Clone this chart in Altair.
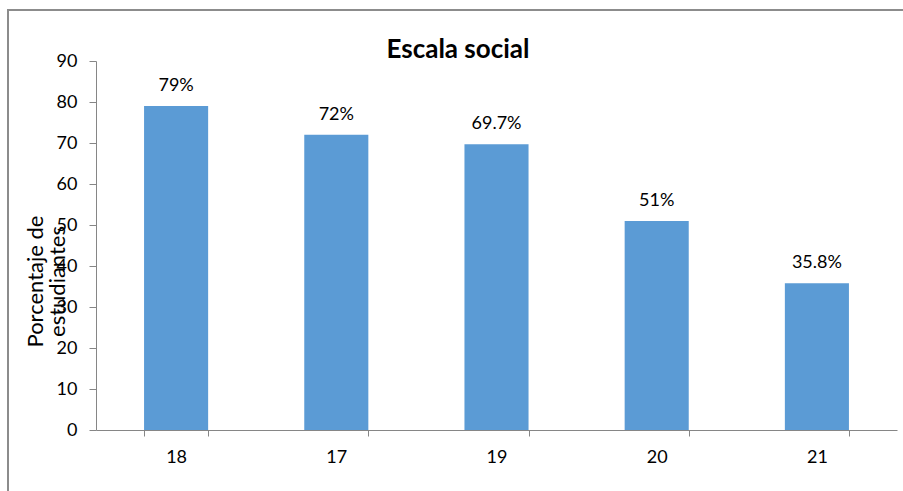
import altair as alt
import pandas as pd

# Categories (ages) and percentage of students for each one
edades = ["18", "17", "19", "20", "21"]
porcentajes = [79, 72, 69.7, 51, 35.8]
titulo = "Escala social"

df = pd.DataFrame({"edad": edades, "valor": porcentajes})

FONT = "Lato"
AXIS_GRAY = "#868686"

base = alt.Chart(df).encode(
    x=alt.X(
        "edad:N",
        sort=edades,
        scale=alt.Scale(paddingInner=0.6, paddingOuter=0.3),
        axis=alt.Axis(
            title=None,
            labelAngle=0,
            tickBand="extent",
            domainColor=AXIS_GRAY,
            tickColor=AXIS_GRAY,
            tickSize=6,
            labelPadding=12,
            labelFont=FONT,
            labelFontSize=18,
            labelColor="black",
        ),
    ),
    y=alt.Y(
        "valor:Q",
        scale=alt.Scale(domain=[0, 90], nice=False),
        axis=alt.Axis(
            title=["Porcentaje de", "estudiantes"],
            titleFont=FONT,
            titleFontSize=22,
            titleFontWeight="normal",
            titleColor="black",
            titleAngle=270,
            titleAlign="center",
            titleBaseline="middle",
            titleLineHeight=22,
            titleX=-61,
            titleY=220,
            values=list(range(0, 91, 10)),
            grid=False,
            domainColor=AXIS_GRAY,
            tickColor=AXIS_GRAY,
            tickSize=7,
            labelPadding=12,
            labelFont=FONT,
            labelFontSize=18,
            labelColor="black",
        ),
    ),
)

barras = base.mark_bar(color="#5B9BD5")

etiquetas = base.transform_calculate(
    etiqueta="datum.valor + '%'"
).mark_text(
    font=FONT, fontSize=18, color="black", baseline="alphabetic", dy=-15
).encode(text="etiqueta:N")

uno = alt.Chart(pd.DataFrame({"t": [titulo]}))

# Outer frame around the chart
marco = uno.mark_rect(
    fill=None, stroke="#8c8c8c", strokeWidth=2
).encode(
    x=alt.value(-88), y=alt.value(-51), x2=alt.value(820), y2=alt.value(480)
)

# Chart title, drawn above the plot
encabezado = uno.mark_text(
    font=FONT, fontSize=26, fontWeight="bold", color="black",
    align="center", baseline="alphabetic"
).encode(text="t:N", x=alt.value(362), y=alt.value(-3))

chart = alt.layer(marco, barras, etiquetas, encabezado).properties(
    width=801,
    height=369,
    autosize=alt.AutoSizeParams(type="none"),
    padding={"left": 96, "top": 61, "right": 6, "bottom": 61},
    background="white",
).configure_view(stroke=None)

chart.save("out.html", embed_options={"renderer": "svg", "actions": False})
